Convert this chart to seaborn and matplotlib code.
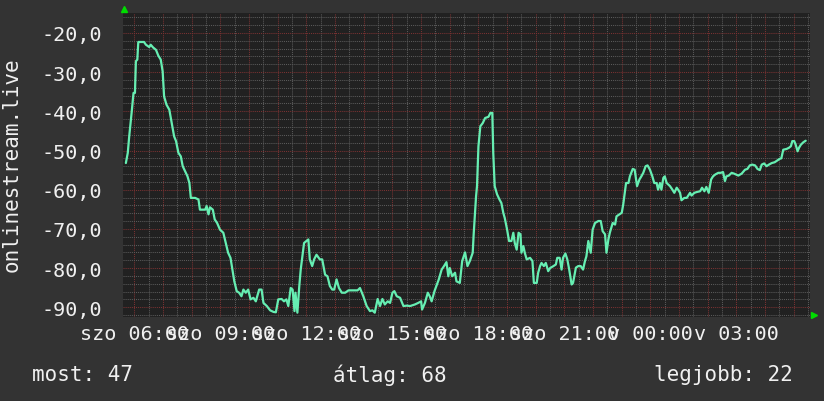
import matplotlib
matplotlib.use("Agg")
import matplotlib.pyplot as plt
from matplotlib.ticker import FixedLocator, MultipleLocator, FuncFormatter
import seaborn as sns
import pandas as pd

# ---- data (minutes since Saturday 00:00, value) ----
minutes = [
    342, 346, 349, 354, 358, 361, 363, 366, 368, 380, 384, 391, 394, 399, 405, 410, 415, 419, 422, 427,
    433, 438, 443, 447, 452, 457, 461, 466, 471, 475, 478, 487, 494, 497, 508, 511, 515, 518, 524, 528,
    533, 539, 546, 551, 556, 561, 565, 569, 574, 579, 584, 588, 593, 598, 603, 609, 614, 621, 626, 630,
    637, 644, 651, 656, 661, 668, 673, 678, 682, 687, 691, 695, 697, 701, 705,
    708, 715, 724, 727, 732, 736, 741, 748, 753, 759, 764, 769, 774, 778, 783, 788, 794, 801, 808, 818,
    827, 832, 839, 846, 853, 858, 863, 869, 874, 879, 884, 890, 895, 900, 904, 909, 916, 923, 930, 937,
    947, 954, 960, 962, 968, 974, 978, 982, 988, 992, 997, 1003, 1008, 1013, 1017, 1020, 1025, 1031, 1034,
    1041, 1046, 1052, 1057,
    1062, 1068, 1070, 1075, 1077, 1080, 1084, 1089, 1094, 1101, 1105, 1109, 1111, 1114, 1119, 1124, 1128,
    1132, 1135, 1140, 1144, 1149, 1153, 1156, 1160, 1164, 1168, 1170, 1174, 1177, 1181, 1188, 1193, 1196,
    1202, 1205, 1209, 1212, 1217, 1221, 1226, 1230, 1237, 1242, 1245, 1250, 1254, 1257, 1262, 1266, 1270,
    1275, 1278, 1284, 1289, 1294, 1299, 1303, 1306, 1310, 1315, 1319, 1324, 1331, 1336, 1340, 1345, 1348,
    1352, 1355, 1361, 1366, 1369, 1375, 1380, 1383, 1389, 1394, 1397, 1403, 1407, 1412, 1417, 1421, 1425, 1430,
    1434, 1439, 1444, 1448, 1453, 1456, 1460, 1463, 1467, 1470, 1474, 1481, 1486, 1490, 1495, 1498, 1502,
    1505, 1511, 1516, 1523, 1526, 1532, 1537, 1544, 1548, 1553, 1557, 1562, 1567, 1571, 1576, 1582, 1587,
    1592, 1596, 1599, 1604, 1610, 1615, 1624, 1631, 1638, 1643, 1648, 1653, 1659, 1664, 1669, 1673, 1678,
    1683, 1688, 1694, 1700, 1706, 1711, 1714, 1718, 1725, 1730, 1734, 1737, 1741, 1744, 1748, 1751, 1755,
    1760, 1765,
]
values = [
    -53.2, -50.6, -46.4, -40.4, -35.3, -35.3, -27.2, -26.8, -22.3, -22.3, -23.0, -23.6, -23.0, -23.7, -24.3, -25.8, -26.8, -29.8, -36.2, -38.3,
    -39.6, -43.0, -46.4, -47.6, -50.6, -51.5, -54.0, -55.3, -56.6, -58.3, -62.1, -62.1, -62.5, -65.1, -65.1, -64.2, -66.3, -64.5, -65.1, -67.6,
    -68.5, -70.2, -71.0, -73.6, -76.1, -77.4, -80.4, -83.4, -85.9, -86.3, -87.2, -85.5, -86.3, -85.5, -88.0, -87.6, -88.5, -85.5, -85.5, -88.9,
    -89.7, -90.8, -91.2, -91.3, -88.0, -87.9, -88.5, -88.0, -89.7, -85.1, -85.5, -91.0, -86.3, -91.4, -84.6,
    -80.4, -73.6, -72.7, -77.8, -79.5, -77.8, -76.6, -77.8, -77.8, -81.7, -82.1, -84.6, -85.5, -85.5, -82.9, -85.1, -86.3, -86.3, -85.7, -85.7,
    -85.7, -85.1, -87.2, -89.7, -91.0, -90.8, -91.4, -87.9, -89.7, -87.9, -89.3, -88.5, -88.9, -86.3, -85.9, -87.2, -87.6, -89.7, -89.6, -89.7,
    -89.3, -88.9, -88.5, -90.6, -88.9, -86.3, -87.2, -88.5, -85.9, -84.6, -82.9, -80.4, -79.5, -78.5, -82.1, -80.0, -82.1, -81.2, -83.4,
    -83.8, -78.2, -76.0, -79.5,
    -78.2, -76.1, -71.4, -61.7, -59.1, -48.9, -43.8, -43.0, -41.7, -41.4, -40.4, -40.4, -50.6, -59.1, -61.2, -62.5, -63.4,
    -65.9, -67.2, -70.2, -73.1, -73.1, -71.0, -73.6, -75.3, -71.0, -71.4, -76.1, -74.4, -76.1, -77.8, -77.4, -78.2, -83.8,
    -83.8, -81.2, -79.5, -78.7, -79.5, -78.7, -80.8, -80.0, -79.5, -79.1, -77.4, -77.4, -80.4, -77.4, -76.3, -77.8, -80.4,
    -84.2, -83.8, -79.9, -79.5, -79.5, -80.4, -78.2, -77.0, -73.1, -76.1, -70.2, -68.5, -68.0, -68.0, -70.6, -71.4, -76.1,
    -72.7, -71.0, -68.5, -68.9, -66.8, -66.3, -65.9, -63.8, -58.3, -58.3, -56.6, -54.7, -54.9, -59.1, -57.4, -56.6, -55.7, -54.0,
    -53.8, -54.9, -56.6, -58.3, -58.3, -60.0, -58.3, -60.0, -57.0, -56.6, -58.3, -59.1, -60.0, -60.8, -59.5, -60.0, -60.8,
    -62.7, -62.1, -62.1, -60.8, -61.5, -60.8, -60.6, -60.4, -59.5, -60.4, -59.3, -60.8, -57.4, -56.6, -56.1, -55.7, -55.7,
    -55.5, -57.8, -56.6, -56.4, -55.7, -55.9, -56.4, -55.9, -54.9, -54.7, -53.8, -53.6, -53.8, -54.7, -55.0, -53.6, -53.3,
    -54.0, -53.6, -53.2, -53.0, -52.5, -52.1, -52.0, -49.8, -49.6, -49.3, -48.9, -47.6, -47.6, -48.5, -50.2, -49.3, -48.5,
    -47.9, -47.5,
]

tick_minutes = [360, 540, 720, 900, 1080, 1260, 1440, 1620]
tick_labels = ["szo 06:00", "szo 09:00", "szo 12:00", "szo 15:00",
               "szo 18:00", "szo 21:00", "v 00:00", "v 03:00"]
y_label = "onlinestream.live"
legend_items = ["most: 47", "átlag: 68", "legjobb: 22"]

# ---- styling ----
sns.set_style("dark")
plt.rcParams["font.family"] = ["DejaVu Sans Mono"]
BG = "#333333"
PLOT_BG = "#212121"
TXT = "#f0f0f0"
LINE = "#66eeb2"
MAJ = "#7a3232"
MIN = "#5a5a5a"

df = pd.DataFrame({"minute": minutes, "value": values})

fig = plt.figure(figsize=(8.24, 4.02), dpi=100, facecolor=BG)
ax = fig.add_axes([123 / 824, 84 / 402, 687 / 824, 304 / 402])
ax.set_facecolor(PLOT_BG)

sns.lineplot(data=df, x="minute", y="value", ax=ax, color=LINE,
             linewidth=1.6, zorder=5)

ax.set_xlim(336, 1774)
ax.set_ylim(-92.5, -14.9)

# grid: hourly major (red), half-hourly minor (grey); y major 10, minor 2
hour_ticks = list(range(360, 1774, 60))
ax.xaxis.set_major_locator(FixedLocator(hour_ticks))
ax.xaxis.set_minor_locator(FixedLocator(list(range(390, 1774, 60))))
lab_map = dict(zip(tick_minutes, tick_labels))
ax.xaxis.set_major_formatter(FuncFormatter(lambda v, p: lab_map.get(int(round(v)), "")))
ax.yaxis.set_major_locator(MultipleLocator(10))
ax.yaxis.set_minor_locator(MultipleLocator(2))
ax.yaxis.set_major_formatter(FuncFormatter(lambda v, p: f"{v:.1f}".replace(".", ",")))

ax.grid(True, which="minor", color=MIN, linestyle=(0, (1, 1)), linewidth=0.75, zorder=1)
ax.grid(True, which="major", color=MAJ, linestyle=(0, (1, 1)), linewidth=0.75, zorder=2)
ax.set_axisbelow(True)

ax.tick_params(axis="both", which="both", length=0, colors=TXT, labelsize=14.5)
ax.tick_params(axis="y", pad=15)
ax.tick_params(axis="x", pad=5)
for s in ax.spines.values():
    s.set_visible(False)
ax.set_xlabel("")
ax.set_ylabel("")

# arrows at axis ends
ax.plot([0.0015], [1.012], marker="^", color="#00dd00", markersize=5,
        transform=ax.transAxes, clip_on=False, zorder=10)
ax.plot([1.006], [0.008], marker=">", color="#00dd00", markersize=5,
        transform=ax.transAxes, clip_on=False, zorder=10)

fig.text(12 / 824, 1 - 165 / 402, y_label, rotation=90, ha="center", va="center",
         color=TXT, fontsize=15)
fig.text(32 / 824, 1 - 375 / 402, legend_items[0], ha="left", va="center", color=TXT, fontsize=15)
fig.text(333 / 824, 1 - 375 / 402, legend_items[1], ha="left", va="center", color=TXT, fontsize=15)
fig.text(793 / 824, 1 - 375 / 402, legend_items[2], ha="right", va="center", color=TXT, fontsize=15)

fig.savefig("out.png", dpi=100, facecolor=BG)
